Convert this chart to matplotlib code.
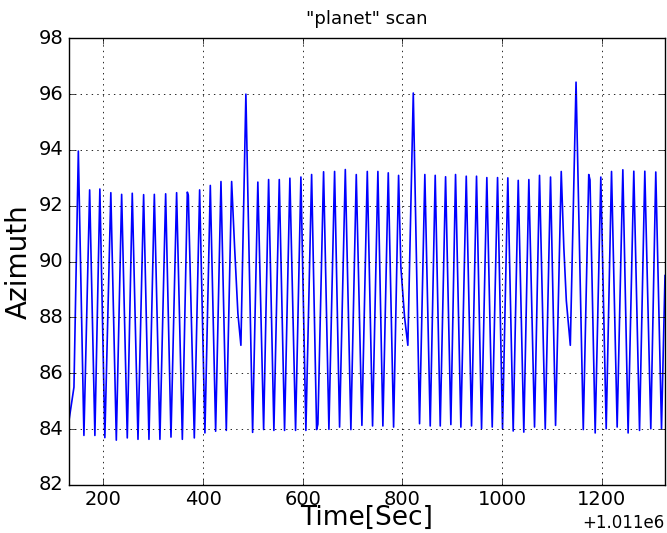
import matplotlib
matplotlib.use("Agg")
import matplotlib.pyplot as plt
from matplotlib.ticker import ScalarFormatter, FixedLocator

plt.style.use('classic')

time_offset = 1011000
times = [131, 141, 149.8, 161, 172.5, 183, 193, 203, 215, 226, 236.7, 248, 258, 269.5,
         280.8, 291.5, 302.3, 313.5, 325, 335.7, 347, 358.5, 368.5, 370.5, 382.5, 393.2,
         403.8, 414.6, 425.3, 436, 446.7, 457.4, 463.4, 470, 476, 486, 499.5, 510, 521.6,
         531.6, 542.2, 553, 563.6, 574.3, 585.7, 596.4, 606.4, 617.9, 627.9, 630.5, 641.9,
         652.6, 664, 674, 685.5, 696.7, 707.5, 718.8, 729.6, 740.2, 750.9, 760.9, 771.7,
         782.4, 792.4, 797, 804.4, 811, 821.9, 834.5, 845.1, 855.9, 865.9, 876, 886.7,
         897.3, 906.7, 917.4, 928.2, 938.8, 948.8, 958.9, 969.5, 980.3, 991, 1001, 1011.6,
         1022.4, 1032.5, 1043.7, 1053.8, 1065.2, 1075.2, 1086.7, 1097.3, 1107.4, 1118.8,
         1124, 1129, 1137, 1148.5, 1163, 1174, 1176.5, 1186.9, 1198.2, 1209, 1219.7, 1231,
         1242.4, 1253, 1264.4, 1275.9, 1286.5, 1298.5, 1308.5, 1320, 1327]
azimuth = [84.3, 85.5, 93.96, 83.77, 92.57, 83.77, 92.6, 83.69, 92.47, 83.6, 92.41, 83.68,
           92.45, 83.63, 92.4, 83.63, 92.41, 83.63, 92.43, 83.71, 92.47, 83.63, 92.49, 92.37,
           83.68, 92.57, 83.86, 92.73, 83.92, 92.87, 83.95, 92.87, 90.5, 88.13, 87.0, 96.0,
           83.88, 92.85, 83.98, 92.94, 83.95, 92.94, 83.95, 92.99, 83.95, 93.03, 83.95, 93.12,
           83.98, 84.17, 93.22, 83.99, 93.23, 84.07, 93.3, 83.98, 93.12, 84.13, 93.23, 84.11,
           93.23, 84.11, 93.18, 84.07, 93.09, 89.8, 88.01, 87.0, 96.04, 84.19, 93.12, 84.11,
           93.09, 84.11, 93.04, 84.16, 93.12, 84.07, 93.06, 84.11, 93.06, 84.01, 93.01, 84.07,
           93.01, 84.01, 93.0, 83.93, 92.91, 83.89, 92.94, 84.07, 93.09, 84.0, 93.03, 84.13,
           93.23, 90.5, 88.6, 87.0, 96.43, 83.98, 93.12, 92.93, 83.86, 93.03, 84.01, 93.23,
           84.07, 93.29, 83.86, 93.24, 83.95, 93.24, 84.01, 93.21, 84.01, 89.5]

x = [time_offset + t for t in times]

fig = plt.figure(figsize=(6.67, 5.33), dpi=100, facecolor='white')
ax = fig.add_axes([0.1034, 0.0904, 0.8936, 0.8376])
ax.plot(x, azimuth, color='#0000ff', linewidth=1.2)

ax.set_xlim(x[0], x[-1])
ax.set_ylim(82, 98)
ax.set_yticks([82, 84, 86, 88, 90, 92, 94, 96, 98])
ax.xaxis.set_major_locator(FixedLocator([time_offset + v for v in [200, 400, 600, 800, 1000, 1200]]))
fmt = ScalarFormatter(useOffset=time_offset)
ax.xaxis.set_major_formatter(fmt)
ax.xaxis.get_offset_text().set_fontsize(12)

ax.grid(True, color='black', linestyle=':', linewidth=0.6)
ax.tick_params(labelsize=14)
ax.set_xlabel('Time[Sec]', fontsize=19, labelpad=-3)
ax.set_ylabel('Azimuth', fontsize=20, labelpad=4)
ax.set_title('"planet" scan', fontsize=13, pad=10)

fig.savefig('out.png', dpi=100, facecolor='white')
